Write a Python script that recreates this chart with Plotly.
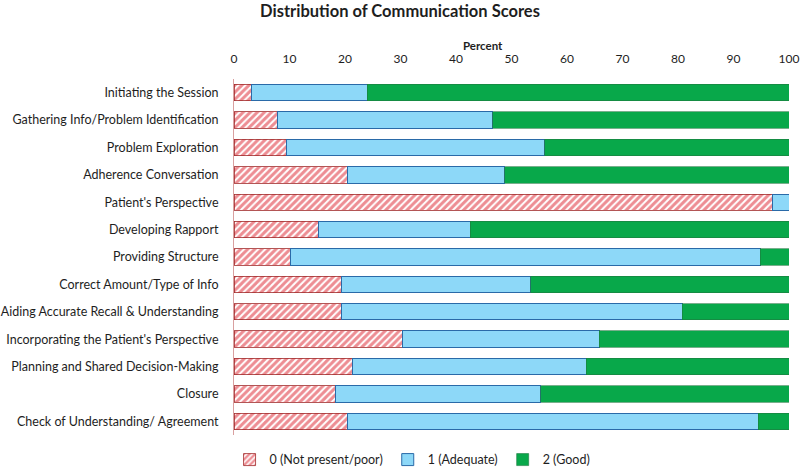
import plotly.graph_objects as go

categories = [
    "Initiating the Session",
    "Gathering Info/Problem Identification",
    "Problem Exploration",
    "Adherence Conversation",
    "Patient's Perspective",
    "Developing Rapport",
    "Providing Structure",
    "Correct Amount/Type of Info",
    "Aiding Accurate Recall & Understanding",
    "Incorporating the Patient's Perspective",
    "Planning and Shared Decision-Making",
    "Closure",
    "Check of Understanding/ Agreement",
]
score0 = [3.2, 7.9, 9.4, 20.4, 97.0, 15.2, 10.1, 19.4, 19.4, 30.4, 21.3, 18.2, 20.5]
score1 = [20.8, 38.7, 46.6, 28.4, 3.0, 27.4, 84.7, 34.1, 61.4, 35.4, 42.2, 37.1, 74.0]
score2 = [76.0, 53.4, 44.0, 51.2, 0.0, 57.4, 5.2, 46.5, 19.2, 34.2, 36.5, 44.7, 5.5]
series_names = ["0 (Not present/poor)", "1 (Adequate)", "2 (Good)"]
x_ticks = [0, 10, 20, 30, 40, 50, 60, 70, 80, 90, 100]

FONT = "Lato"
TXT = "#1e1e1e"

fig = go.Figure()
fig.add_trace(go.Bar(
    y=categories, x=score0, orientation="h", name=series_names[0],
    marker=dict(color="white",
                pattern=dict(shape="/", fgcolor="#dc1c28", bgcolor="white", size=5, solidity=0.6),
                line=dict(color="#a02a2a", width=0.8)),
))
fig.add_trace(go.Bar(
    y=categories, x=score1, orientation="h", name=series_names[1],
    marker=dict(color="#8dd8f8", line=dict(color="#2a6aa8", width=1)),
))
fig.add_trace(go.Bar(
    y=categories, x=score2, orientation="h", name=series_names[2],
    marker=dict(color="#08a84a", line=dict(color="#1e7a40", width=0.6)),
))

fig.update_layout(
    barmode="stack",
    bargap=0.4,
    width=800, height=470,
    margin=dict(l=234, r=11, t=79, b=35, autoexpand=False),
    paper_bgcolor="white", plot_bgcolor="white",
    font=dict(family=FONT, size=12.5, color=TXT),
    title=dict(text="<b>Distribution of Communication Scores</b>", x=0.5, xanchor="center",
               xref="container", y=1 - 11 / 470, yref="container", yanchor="middle",
               font=dict(size=16.5, family=FONT, color=TXT)),
    showlegend=True,
    legend=dict(orientation="h", x=-0.008, xanchor="left", y=-0.028, yanchor="top",
                font=dict(size=12.5, family=FONT, color=TXT), traceorder="normal", itemwidth=30),
    xaxis=dict(side="top", range=[0, 100], tickvals=x_ticks, showgrid=False, automargin=False,
               zeroline=False, showline=False, ticks="outside", ticklen=10,
               tickcolor="rgba(0,0,0,0)", tickfont=dict(size=12, family=FONT, color=TXT)),
    yaxis=dict(autorange="reversed", showgrid=False, showline=True, linecolor="#d9a0a0",
               linewidth=1, ticks="", ticklabelstandoff=12, automargin=False,
               tickfont=dict(size=12.5, family=FONT, color=TXT)),
    annotations=[
        dict(text="<b>Percent</b>", xref="paper", yref="paper",
             x=0.449, y=1.0, yshift=34, xanchor="center", yanchor="middle", showarrow=False,
             font=dict(size=11.5, family=FONT, color=TXT)),
    ],
)

fig.write_html(
    "out.html",
    config={"displayModeBar": False},
    post_script="document.body.style.margin='0';document.body.style.overflow='hidden';",
)
